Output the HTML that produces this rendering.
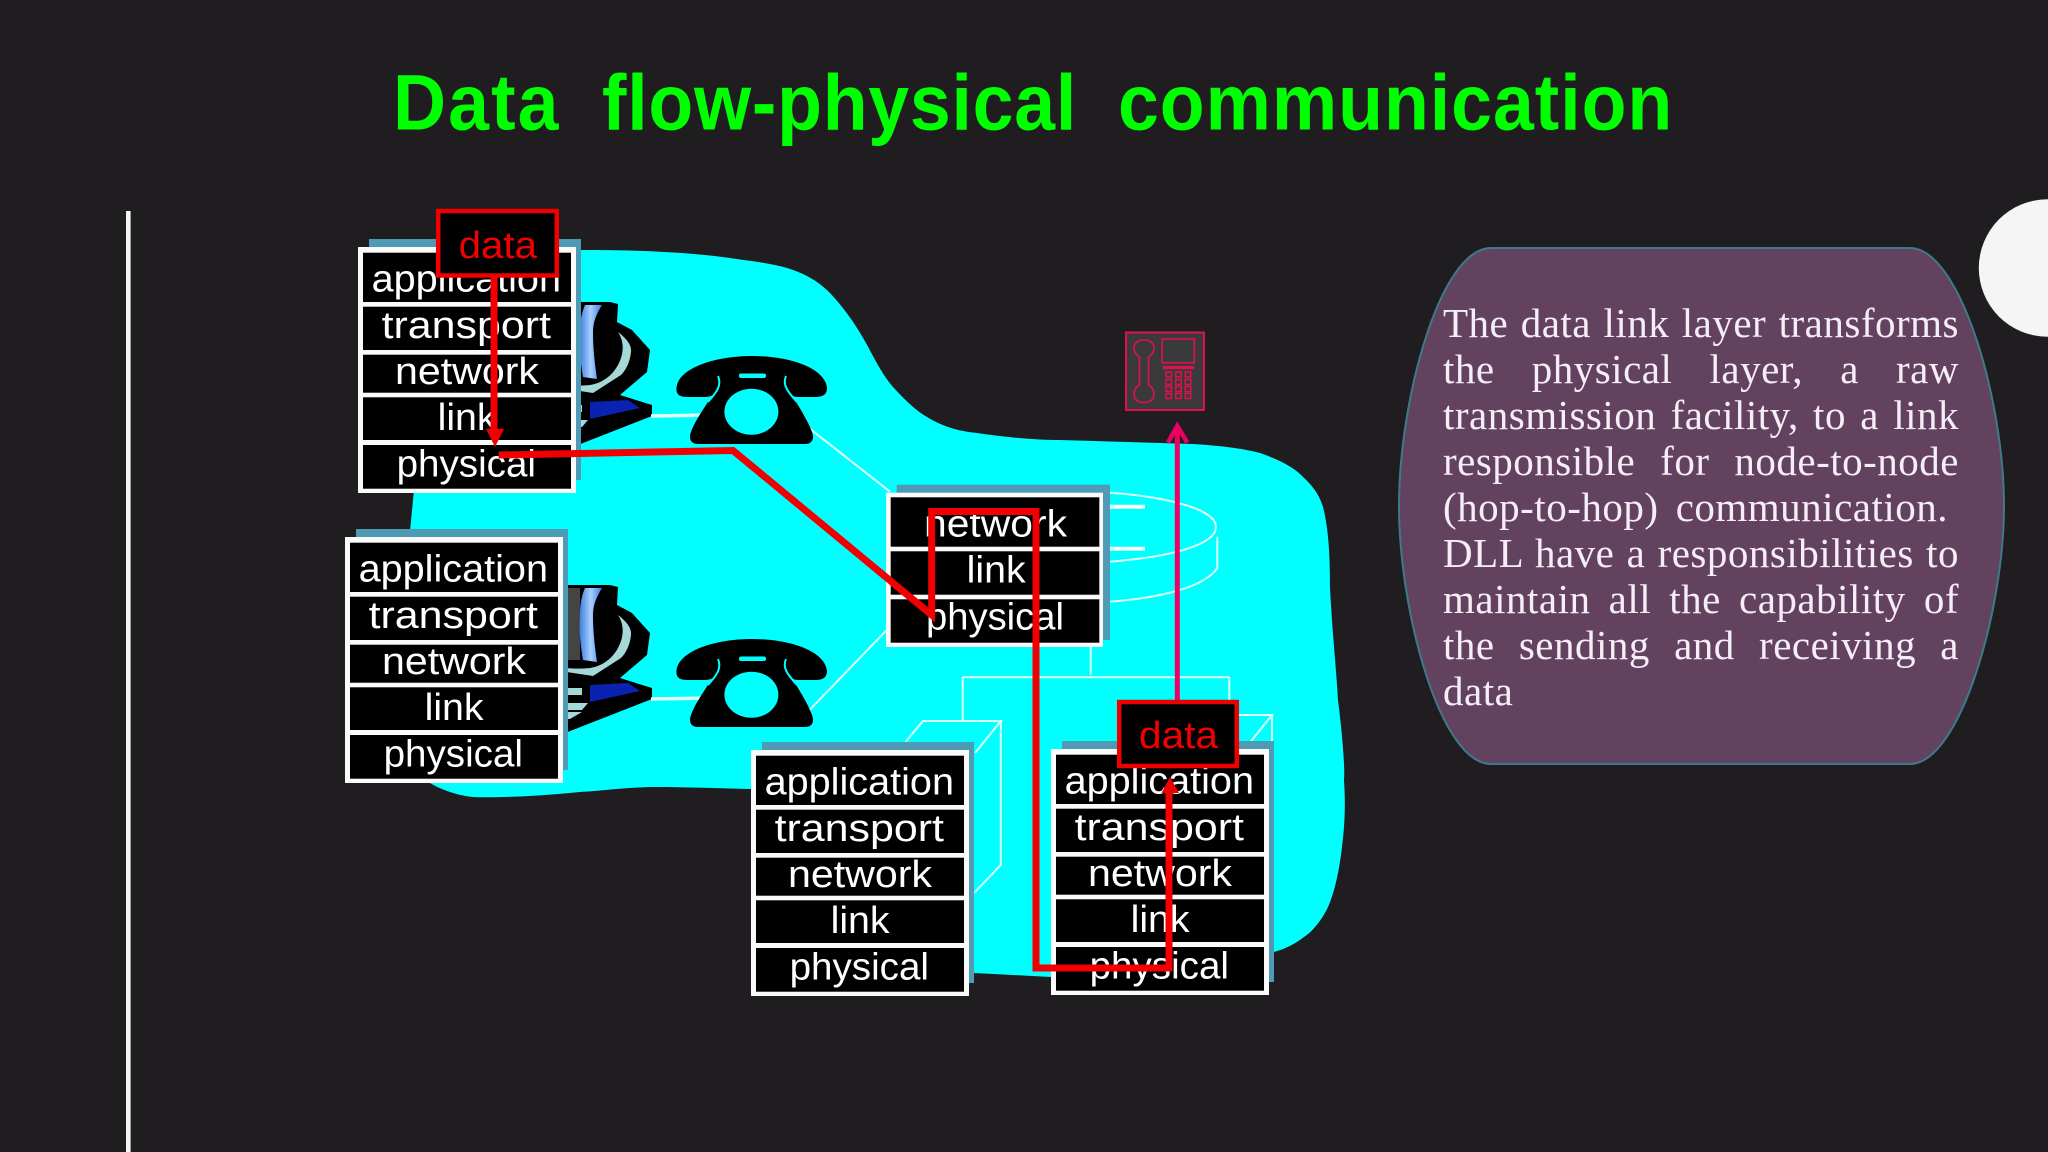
<!DOCTYPE html>
<html><head><meta charset="utf-8"><style>
html,body{margin:0;padding:0;background:#1f1d20;width:2048px;height:1152px;overflow:hidden}
#s{position:absolute;left:0;top:0}
.l{position:absolute;left:1443px;width:516px;white-space:nowrap;font:41px/46px "Liberation Serif",serif;letter-spacing:.5px;color:#f6eef6;text-align:justify;text-align-last:justify}
</style></head><body>
<svg id="s" width="2048" height="1152" viewBox="0 0 2048 1152" xmlns="http://www.w3.org/2000/svg">
<defs>
<linearGradient id="b" x1="0" x2="1" y1="0" y2="0"><stop offset="0" stop-color="#3f7fe0"/><stop offset=".5" stop-color="#a8d0ff"/><stop offset="1" stop-color="#3d7ae0"/></linearGradient>
<g id="comp">
<path d="M560,302L610,302L618,304L617,322L632,330L650,350L647,372L620,395L652,405L652,416L560,452Z" fill="#000"/>
<rect x="560" y="305" width="20" height="72" fill="#444"/>
<path d="M585,305L602,305C596,315 593,322 593,332C593,350 595,365 597,379L583,377C580,360 579,345 580,332C580,320 582,312 585,305Z" fill="url(#b)"/>
<path d="M618,332C626,338 632,345 631,352C630,362 626,370 621,375L593,393L560,388L560,384C570,386 580,386 590,385C604,383 616,373 621,358C624,348 623,340 618,332Z" fill="#a6d8d8"/>
<path d="M590,402L628,400L640,408L590,419Z" fill="#0a22b0"/>
<path d="M560,405L582,405L582,412L560,412ZM560,420L588,420L582,427L560,427ZM560,429L582,429L570,436L560,436Z" fill="#a6d8d8"/>
<path d="M651,416L712,415" stroke="#e4ffff" stroke-width="3.5"/>
</g>
<g id="ph">
<path d="M676.5,388C678,368 715,356 752,356C790,356 825,368 827,388C827,395 822,397 815,397L798,397C790,397 784,390 784,378L721,378C721,390 715,397 705,397L688,397C680,397 676,395 676.5,388Z" fill="#000"/>
<path d="M721,378L784,378C790,395 806,415 812,432C815,440 811,444 805,444L698,444C692,444 688,440 691,432C697,415 715,395 721,378Z" fill="#000"/>
<path d="M718,376C722,385 717,392 708,402M786,376C782,385 788,392 797,402" fill="none" stroke="#00ffff" stroke-width="2"/>
<ellipse cx="751.4" cy="411.7" rx="27" ry="23" fill="#00ffff"/>
<rect x="739" y="373.5" width="27" height="4.5" rx="2" fill="#00ffff"/>
</g>
<g id="stk">
<rect x="369" y="239" width="212" height="241" fill="#4f9ab5"/>
<rect x="358" y="247" width="218" height="246" fill="#fafafa"/>
<rect x="363" y="252.7" width="208" height="49.3" fill="#000"/>
<rect x="363" y="306.7" width="208" height="43.3" fill="#000"/>
<rect x="363" y="354.7" width="208" height="38" fill="#000"/>
<rect x="363" y="397.3" width="208" height="42.7" fill="#000"/>
<rect x="363" y="445" width="208" height="43.7" fill="#000"/>
</g>
</defs>

<rect x="126" y="211" width="4.6" height="941" fill="#f4f4f4"/>
<circle cx="2047.5" cy="268" r="68.7" fill="#f5f5f5"/>

<g font-family="'Liberation Sans',sans-serif" font-weight="700" font-size="79" fill="#00ff00">
<text transform="translate(393,129.5) scale(.93,1)" textLength="178" lengthAdjust="spacing">Data</text>
<text transform="translate(602,129.5) scale(.93,1)" textLength="510" lengthAdjust="spacing">flow-physical</text>
<text transform="translate(1118,129.5) scale(.93,1)" textLength="596" lengthAdjust="spacing">communication</text>
</g>

<!-- cloud -->
<path d="M440,260L581,250C640,250 687,252 730,258C750,261 770,263 787,268C810,275 822,285 830,293C846,310 857,327 866,343C875,360 884,377 893,387C905,400 915,410 927,417C945,428 960,431 977,433C1010,438 1040,440 1060,440L1193,444C1225,446 1245,449 1260,453C1280,460 1295,468 1303,477C1315,488 1320,497 1323,507C1329,530 1330,560 1330,587C1332,630 1336,665 1338,700C1343,740 1345,770 1344,780C1346,810 1344,830 1342,847C1338,880 1333,895 1328,907C1322,920 1312,932 1304,937C1295,944 1285,949 1274,952L1270,978L1051,977L974,973L900,965L751,789C710,788 680,787 651,787C620,788 600,791 580,792C540,796 500,798 473,797C455,795 440,789 430,783L405,700L410,531L414,490Z" fill="#00ffff"/>
<path d="M751,789L975,790L975,973L751,973Z" fill="#00ffff"/>

<!-- thin network lines -->
<g fill="none" stroke="#dcffff" stroke-width="2">
<path d="M799.6,420.7L890,491.7"/>
<path d="M807.9,711.7L890,626.7"/>
<path d="M1110,492.7C1170,497 1216,510 1216,526.7C1216,545 1170,557 1110,561.7"/>
<path d="M1217.3,536.7L1217.3,568C1205,587 1160,598 1110,601.7"/>
<path d="M1090.7,647L1090.7,675M962.7,677.3L1229.3,677.3M962.7,677.3L962.7,721M1229.3,677.3L1229.3,715"/>
<path d="M905.7,741.7L922.9,721L1000.8,721L975,753M1000.8,721L1000.8,865L974,893"/>
<path d="M1239,715L1272,715L1250.6,741.7M1272,715L1272,741.7"/>
</g>
<path d="M1110,506.7L1145,506.7M1110,548.7L1145,548.7" stroke="#f4ffff" stroke-width="4"/>

<use href="#comp"/>
<use href="#ph"/>
<g transform="translate(0,283)"><use href="#comp"/><use href="#ph"/></g>

<!-- wall phone icon -->
<rect x="1126" y="332.5" width="78" height="77.5" fill="#3a3a3c" stroke="#e0104f" stroke-width="2"/>
<rect x="1162" y="339" width="32.3" height="23.7" fill="none" stroke="#e0104f" stroke-width="1.6"/>
<rect x="1163" y="366" width="31" height="3.2" fill="#e0104f"/>
<path d="M1139.5,357C1131,352 1132,340 1144,340C1156,340 1157,352 1148.5,357L1148.5,385C1157,390 1156,402.5 1144,402.5C1132,402.5 1131,390 1139.5,385Z" fill="none" stroke="#e0104f" stroke-width="1.6"/>
<g fill="none" stroke="#e0104f" stroke-width="1.5">
<rect x="1166" y="372" width="5.5" height="5"/><rect x="1175.7" y="372" width="5.5" height="5"/><rect x="1185.3" y="372" width="5.5" height="5"/>
<rect x="1166" y="379.5" width="5.5" height="5"/><rect x="1175.7" y="379.5" width="5.5" height="5"/><rect x="1185.3" y="379.5" width="5.5" height="5"/>
<rect x="1166" y="386.5" width="5.5" height="5"/><rect x="1175.7" y="386.5" width="5.5" height="5"/><rect x="1185.3" y="386.5" width="5.5" height="5"/>
<rect x="1166" y="393.5" width="5.5" height="5"/><rect x="1175.7" y="393.5" width="5.5" height="5"/><rect x="1185.3" y="393.5" width="5.5" height="5"/>
</g>

<!-- magenta arrow -->
<path d="M1177.3,705L1177.3,426" stroke="#ee0062" stroke-width="5" fill="none"/>
<path d="M1168,442.5L1177.3,426L1187.3,442.5" stroke="#ee0062" stroke-width="4.5" fill="none"/>

<!-- stacks -->
<g font-family="'Liberation Sans',sans-serif" font-size="38" fill="#fff">
<use href="#stk"/>
<text x="371.6" y="291.7" textLength="189.4" lengthAdjust="spacingAndGlyphs">application</text>
<text x="381.6" y="338" textLength="169.4" lengthAdjust="spacingAndGlyphs">transport</text>
<text x="395" y="384" textLength="144" lengthAdjust="spacingAndGlyphs">network</text>
<text x="437.6" y="430" textLength="59" lengthAdjust="spacingAndGlyphs">link</text>
<text x="396.6" y="476.7" textLength="139.4" lengthAdjust="spacingAndGlyphs">physical</text>

<g transform="translate(-13,290)"><use href="#stk"/>
<text x="371.6" y="291.7" textLength="189.4" lengthAdjust="spacingAndGlyphs">application</text>
<text x="381.6" y="338" textLength="169.4" lengthAdjust="spacingAndGlyphs">transport</text>
<text x="395" y="384" textLength="144" lengthAdjust="spacingAndGlyphs">network</text>
<text x="437.6" y="430" textLength="59" lengthAdjust="spacingAndGlyphs">link</text>
<text x="396.6" y="476.7" textLength="139.4" lengthAdjust="spacingAndGlyphs">physical</text>
</g>

<g transform="translate(393,503)"><use href="#stk"/>
<text x="371.6" y="291.7" textLength="189.4" lengthAdjust="spacingAndGlyphs">application</text>
<text x="381.6" y="338" textLength="169.4" lengthAdjust="spacingAndGlyphs">transport</text>
<text x="395" y="384" textLength="144" lengthAdjust="spacingAndGlyphs">network</text>
<text x="437.6" y="430" textLength="59" lengthAdjust="spacingAndGlyphs">link</text>
<text x="396.6" y="476.7" textLength="139.4" lengthAdjust="spacingAndGlyphs">physical</text>
</g>

<g transform="translate(693,502)"><use href="#stk"/>
<text x="371.6" y="291.7" textLength="189.4" lengthAdjust="spacingAndGlyphs">application</text>
<text x="381.6" y="338" textLength="169.4" lengthAdjust="spacingAndGlyphs">transport</text>
<text x="395" y="384" textLength="144" lengthAdjust="spacingAndGlyphs">network</text>
<text x="437.6" y="430" textLength="59" lengthAdjust="spacingAndGlyphs">link</text>
<text x="396.6" y="476.7" textLength="139.4" lengthAdjust="spacingAndGlyphs">physical</text>
</g>

<!-- router stack -->
<rect x="896.7" y="484.7" width="213.3" height="155.3" fill="#4f9ab5"/>
<rect x="886" y="492.7" width="217" height="154.3" fill="#fafafa"/>
<rect x="890.7" y="497.3" width="208.6" height="49.4" fill="#000"/>
<rect x="890.7" y="551.3" width="208.6" height="43.4" fill="#000"/>
<rect x="890.7" y="599.3" width="208.6" height="43.4" fill="#000"/>
<text x="924" y="536.7" textLength="143" lengthAdjust="spacingAndGlyphs">network</text>
<text x="966.7" y="582.7" textLength="59" lengthAdjust="spacingAndGlyphs">link</text>
<text x="926" y="629.3" textLength="138" lengthAdjust="spacingAndGlyphs">physical</text>
</g>

<!-- data boxes -->
<rect x="438.2" y="211" width="118.6" height="64.5" fill="#000" stroke="#ee0000" stroke-width="4.5"/>
<text x="458.6" y="258" font-family="'Liberation Sans',sans-serif" font-size="38" fill="#f00000" textLength="78.4" lengthAdjust="spacingAndGlyphs">data</text>
<rect x="1119.2" y="702" width="117.6" height="64" fill="#000" stroke="#ee0000" stroke-width="4.5"/>
<text x="1139" y="748" font-family="'Liberation Sans',sans-serif" font-size="38" fill="#f00000" textLength="79" lengthAdjust="spacingAndGlyphs">data</text>

<!-- red route -->
<g fill="none" stroke="#f00000" stroke-width="7">
<path d="M494,277L494,432"/>
<path d="M498.6,455L733,450.5L931.7,615L931.7,511.5L1036,511.5L1036,968L1169,968L1169,790"/>
</g>
<path d="M486,428.7L504,428.7L495,447Z" fill="#f00000"/>
<path d="M1161.5,793L1179,793L1170,777Z" fill="#f00000"/>

<!-- callout -->
<path d="M1491,248L1910,248C1960,248 2004,400 2004,506C2004,610 1960,764 1910,764L1491,764C1440,764 1399,610 1399,506C1399,400 1440,248 1491,248Z" fill="#634260" stroke="#3d7a8a" stroke-width="2"/>
</svg>

<div class="l" style="top:300px">The data link layer transforms</div>
<div class="l" style="top:346px">the physical layer, a raw</div>
<div class="l" style="top:392px">transmission facility, to a link</div>
<div class="l" style="top:438px">responsible for node-to-node</div>
<div class="l" style="top:484px;width:505px">(hop-to-hop) communication.</div>
<div class="l" style="top:530px">DLL have a responsibilities to</div>
<div class="l" style="top:576px">maintain all the capability of</div>
<div class="l" style="top:622px">the sending and receiving a</div>
<div class="l" style="top:668px;text-align-last:left">data</div>
</body></html>
